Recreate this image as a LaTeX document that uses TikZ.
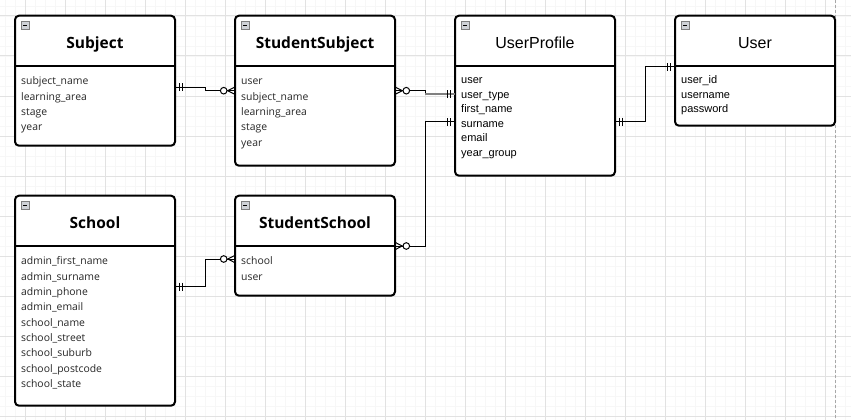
\documentclass[tikz,border=0pt]{standalone}
\usepackage{fontspec}
\setmainfont{Open Sans}
\newfontfamily\arialfont{Liberation Sans}
\usetikzlibrary{calc}
\definecolor{gridmajor}{HTML}{E2E2E2}
\definecolor{gridminor}{HTML}{F7F7F7}
\definecolor{pageline}{HTML}{A8A8A8}
\definecolor{iconfill}{HTML}{D0D3D8}
\definecolor{iconline}{HTML}{7F7F7F}
\definecolor{hiline}{HTML}{808080}
\begin{document}
\begin{tikzpicture}[x=1pt,y=-1pt,
  entity/.style={draw=black, line width=2pt, fill=white, rounded corners=4pt, rectangle, inner sep=0pt, outer sep=0pt, minimum width=160pt},
  divider/.style={draw=black, line width=2pt},
  titleL/.style={font=\fontsize{15.5}{18}\selectfont\bfseries, anchor=base, inner sep=0pt},
  titleR/.style={font=\arialfont\fontsize{16}{18}\selectfont, anchor=base, inner sep=0pt},
  attrL/.style={font=\fontsize{10.4}{12}\selectfont, anchor=base west, inner sep=0pt, text=black!85},
  attrR/.style={font=\arialfont\fontsize{11}{13}\selectfont, anchor=base west, inner sep=0pt},
  conn/.style={draw=black, line width=1pt},
  hiconn/.style={draw=hiline, line width=1.8pt},
  collapseicon/.pic={\draw[fill=iconfill, draw=iconline, line width=0.6pt] (0,0) rectangle (8,7.5);
                     \draw[line width=1pt] (1.8,3.75) -- (6.2,3.75);},
  onetick/.pic={\draw[line width=1pt] (4.3,-4) -- (4.3,4) (7.5,-4) -- (7.5,4);},
  zeromany/.pic={\draw[line width=1pt] (0,-3.7) -- (7.3,0) -- (0,3.7);
                 \draw[line width=1pt, fill=white] (11.3,0) circle (3.3pt);}
]
\useasboundingbox (0,0) rectangle (851,420);
\fill[white] (0,0) rectangle (851,420);
% grid
\foreach \i in {0,...,84} \draw[gridminor, line width=0.6pt] (5.3+10*\i,0) -- ++(0,420);
\foreach \j in {0,...,41} \draw[gridminor, line width=0.6pt] (0,6+10*\j) -- ++(851,0);
\foreach \i in {0,...,20} \draw[gridmajor, line width=1pt] (25.3+40*\i,0) -- ++(0,420);
\foreach \j in {0,...,10} \draw[gridmajor, line width=1pt] (0,16+40*\j) -- ++(851,0);
\draw[pageline, line width=1pt, dash pattern=on 3pt off 2pt] (835.3,0) -- (835.3,420);

% entities
\node[entity, minimum height=130pt] (subject) at (95,80.7) {};
\node[entity, minimum height=150pt] (ssub) at (315,90.7) {};
\node[entity, minimum height=160pt] (uprof) at (535,95.7) {};
\node[entity, minimum height=110pt] (user) at (755,70.7) {};
\node[entity, minimum height=210pt] (school) at (95,300.7) {};
\node[entity, minimum height=100pt] (sschool) at (315,245.7) {};

\foreach \e in {subject,ssub,uprof,user}
  \draw[divider] (\e.west |- 0,65.7) -- (\e.east |- 0,65.7);
\foreach \e in {school,sschool}
  \draw[divider] (\e.west |- 0,245.7) -- (\e.east |- 0,245.7);
\foreach \e in {subject,ssub,uprof,user,school,sschool}
  \pic at ($(\e.north west)+(6,6)$) {collapseicon};

% titles
\node[titleL] (subject-t) at (95,48.5) {Subject};
\node[titleL] (ssub-t) at (315,48.5) {StudentSubject};
\node[titleR] (uprof-t) at (535,48.3) {UserProfile};
\node[titleR] (user-t) at (755,48.3) {User};
\node[titleL] (school-t) at (95,228.6) {School};
\node[titleL] (sschool-t) at (315,228.6) {StudentSchool};

% attributes
\foreach \t [count=\i from 0] in {subject\_name, learning\_area, stage, year}
  \node[attrL] (subject-a\i) at (21,84.8+15.33*\i) {\t};
\foreach \t [count=\i from 0] in {user, subject\_name, learning\_area, stage, year}
  \node[attrL] (ssub-a\i) at (241,84.8+15.33*\i) {\t};
\foreach \t [count=\i from 0] in {user, user\_type, first\_name, surname, email, year\_group}
  \node[attrR] (uprof-a\i) at (461,84+14.45*\i) {\t};
\foreach \t [count=\i from 0] in {user\_id, username, password}
  \node[attrR] (user-a\i) at (681,84+14.45*\i) {\t};
\foreach \t [count=\i from 0] in {admin\_first\_name, admin\_surname, admin\_phone, admin\_email, school\_name, school\_street, school\_suburb, school\_postcode, school\_state}
  \node[attrL] (school-a\i) at (21,264.8+15.33*\i) {\t};
\foreach \t [count=\i from 0] in {school, user}
  \node[attrL] (sschool-a\i) at (241,264.8+15.33*\i) {\t};

% connectors
\coordinate (c1a) at (subject.east |- 0,87.3);
\coordinate (c1b) at (ssub.west |- 0,90.7);
\draw[conn] (c1a) -- (c1a -| 205.3,0) |- (c1b);

\coordinate (c2a) at (ssub.east |- 0,90.7);
\coordinate (c2b) at (uprof.west |- 0,94);
\draw[conn] (c2a) -- (c2a -| 425,0) -- (c2b -| 425,0);
\draw[hiconn] (c2b -| 425,0) -- (c2b);

\coordinate (c3a) at (sschool.east |- 0,246);
\coordinate (c3b) at (uprof.west |- 0,121.7);
\draw[conn] (c3a) -- (c3a -| 425,0) |- (c3b);

\coordinate (c4a) at (uprof.east |- 0,121.7);
\coordinate (c4b) at (user.west |- 0,66.7);
\draw[conn] (c4a) -- (c4a -| 645.7,0) |- (c4b);

\coordinate (c5a) at (school.east |- 0,286.7);
\coordinate (c5b) at (sschool.west |- 0,259);
\draw[conn] (c5a) -- (c5a -| 205.3,0) |- (c5b);

% end markers
\pic at (c1a) {onetick};
\pic[rotate=180] at (c1b) {zeromany};
\pic at (c2a) {zeromany};
\pic[rotate=180] at (c2b) {onetick};
\pic at (c3a) {zeromany};
\pic[rotate=180] at (c3b) {onetick};
\pic at (c4a) {onetick};
\pic[rotate=180] at (c4b) {onetick};
\pic at (c5a) {onetick};
\pic[rotate=180] at (c5b) {zeromany};
\end{tikzpicture}
\end{document}
